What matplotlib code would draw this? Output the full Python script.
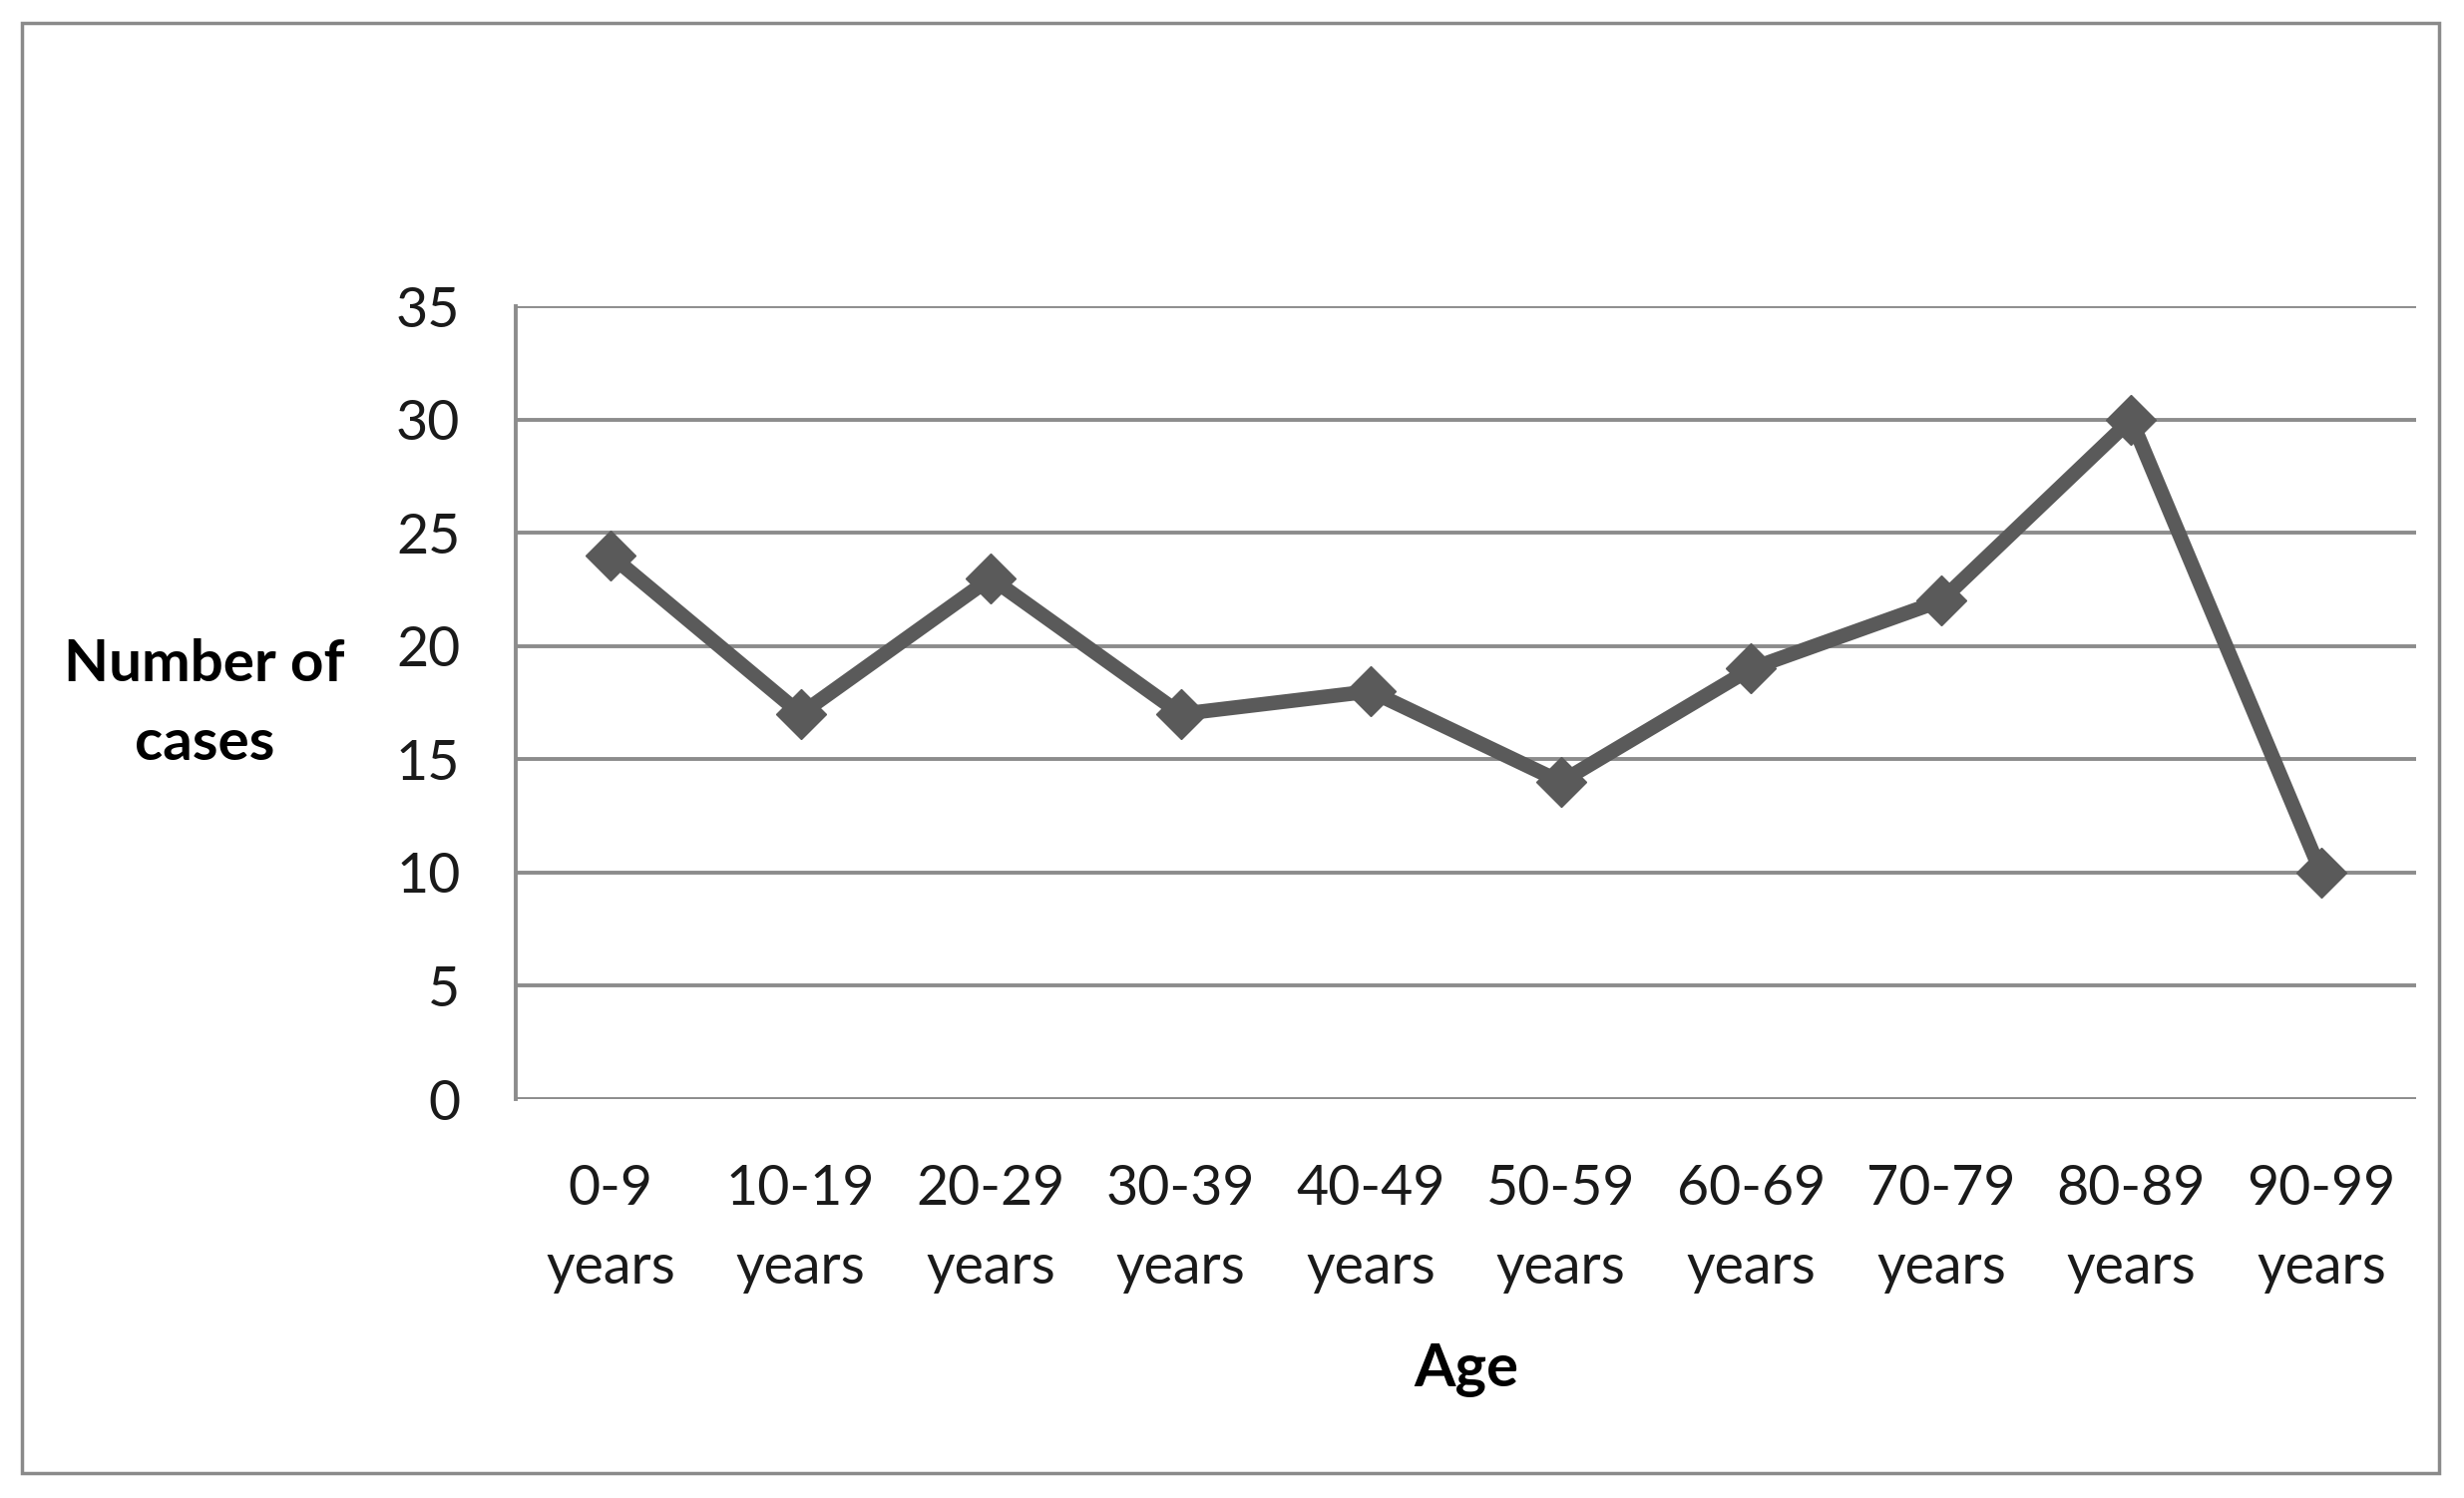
"""
Number of cases by age group, drawn as a line chart with diamond markers.
"""

import matplotlib.pyplot as plt
from matplotlib.patches import Rectangle

# ============================================================
# DATA
# ============================================================
age_groups = ["0-9\nyears", "10-19\nyears", "20-29\nyears", "30-39\nyears",
              "40-49\nyears", "50-59\nyears", "60-69\nyears", "70-79\nyears",
              "80-89\nyears", "90-99\nyears"]
cases = [24, 17, 23, 17, 18, 14, 19, 22, 30, 10]
y_ticks = [0, 5, 10, 15, 20, 25, 30, 35]
# ============================================================

line_color = "#5a5a5a"
grid_color = "#8c8c8c"
font = ["Lato", "DejaVu Sans"]


def main():
    plt.rcParams["font.family"] = font

    fig = plt.figure(figsize=(24.7, 15.02), dpi=100)
    ax = fig.add_axes([0.2093, 0.2663, 0.7713, 0.5293])

    x = list(range(len(cases)))
    ax.plot(x, cases, color=line_color, linewidth=10.5, marker="D",
            markersize=25, markerfacecolor=line_color,
            markeredgecolor=line_color, solid_joinstyle="miter", zorder=3)

    ax.set_xlim(-0.5, len(cases) - 0.5)
    ax.set_ylim(0, 35)
    ax.set_yticks(y_ticks)
    ax.set_xticks(x)
    ax.set_xticklabels(age_groups, linespacing=1.68)

    for v in y_ticks:
        ax.axhline(v, color=grid_color, linewidth=2.8, zorder=1)

    for side in ["top", "right", "bottom"]:
        ax.spines[side].set_visible(False)
    ax.spines["left"].set_color(grid_color)
    ax.spines["left"].set_linewidth(2.8)

    ax.tick_params(axis="both", length=0, labelsize=40, colors="#1a1a1a")
    ax.tick_params(axis="y", pad=40)
    ax.tick_params(axis="x", pad=47)

    fig.text(0.083, 0.53, "Number of\ncases", ha="center", va="center",
             fontsize=42, fontweight="bold", linespacing=1.6)
    fig.text(0.595, 0.085, "Age", ha="center", va="center",
             fontsize=43, fontweight="bold")

    fig.patches.append(Rectangle((0.009, 0.0166), 0.981, 0.968,
                                 transform=fig.transFigure, fill=False,
                                 edgecolor="#8a8a8a", linewidth=2.5))

    fig.savefig("out.png", dpi=100)


if __name__ == "__main__":
    main()
